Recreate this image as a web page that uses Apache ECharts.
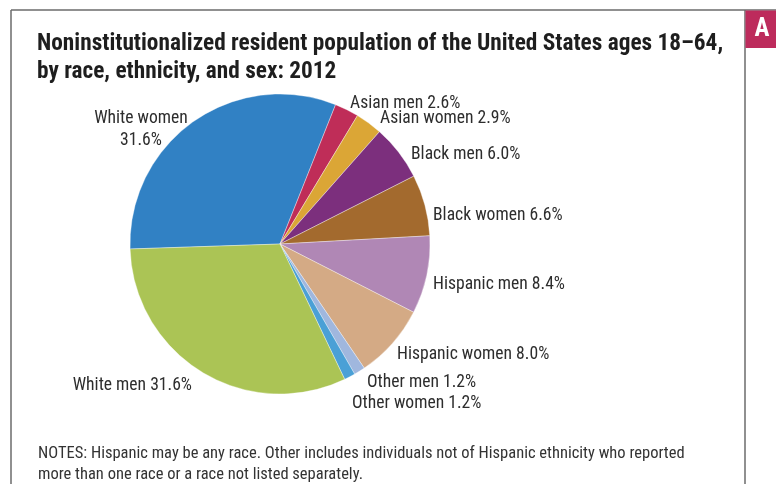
<!DOCTYPE html>
<html>
<head>
<meta charset="utf-8">
<script src="https://cdn.jsdelivr.net/npm/echarts@6/dist/echarts.min.js"></script>
<style>
html,body{margin:0;padding:0;background:#fff;}
#chart{width:776px;height:484px;}
</style>
</head>
<body>
<div id="chart"></div>
<script>
const categories = ["White women","Asian men","Asian women","Black men","Black women","Hispanic men","Hispanic women","Other men","Other women","White men"];
const shares = [31.6, 2.6, 2.9, 6.0, 6.6, 8.4, 8.0, 1.2, 1.2, 31.6];
const sliceColors = ["#3181c4","#bf2d58","#dba636","#7c2f7d","#a36a2e","#b087b5","#d4aa85","#a0b7de","#4aa0d6","#abc455"];
const titleText = "Noninstitutionalized resident population of the United States ages 18\u201364,\nby race, ethnicity, and sex: 2012";
const notesText = "NOTES: Hispanic may be any race. Other includes individuals not of Hispanic ethnicity who reported\nmore than one race or a race not listed separately.";

const FONT = "'Roboto Condensed','Roboto',sans-serif";
// label anchor placements (layout only)
const labelAnchors = [
  {x:141, y:130, align:'center'},
  {x:350, y:104, align:'left'},
  {x:380, y:119, align:'left'},
  {x:411, y:155, align:'left'},
  {x:433, y:216, align:'left'},
  {x:433, y:285, align:'left'},
  {x:397, y:355, align:'left'},
  {x:367, y:383, align:'left'},
  {x:352, y:404, align:'left'},
  {x:192, y:386, align:'right'}
];

const chart = echarts.init(document.getElementById('chart'), null, {renderer:'canvas'});
chart.setOption({
  animation:false,
  backgroundColor:'#ffffff',
  title:{
    text:titleText,
    left:37, top:30,
    padding:0,
    textStyle:{fontFamily:FONT, fontWeight:'bold', fontSize:23.3, lineHeight:28, color:'#1e1e1e'}
  },
  graphic:[
    {type:'line', shape:{x1:11,y1:10,x2:776,y2:10}, style:{stroke:'#6b6b6b', lineWidth:1.5}},
    {type:'line', shape:{x1:11,y1:10,x2:11,y2:484}, style:{stroke:'#6b6b6b', lineWidth:1.5}},
    {type:'line', shape:{x1:745,y1:10,x2:745,y2:484}, style:{stroke:'#6b6b6b', lineWidth:1.5}},
    {type:'rect', shape:{x:745.5,y:10.5,width:31,height:37.5}, style:{fill:'#bd2b5c'}},
    {type:'text', x:762, y:30, style:{text:'A', fill:'#ffffff', font:"bold 25px "+FONT, align:'center', verticalAlign:'middle'}},
    {type:'text', x:38, y:444, style:{text:notesText, fill:'#333333', font:"16.5px "+FONT, lineHeight:20.5, verticalAlign:'top'}}
  ],
  series:[{
    type:'pie',
    center:[280,244],
    radius:[0,150],
    startAngle:181.9,
    clockwise:true,
    avoidLabelOverlap:false,
    itemStyle:{borderColor:'rgba(255,255,255,0.6)', borderWidth:0.6},
    label:{
      show:true,
      position:'outside',
      fontFamily:FONT,
      fontSize:17.6,
      lineHeight:22,
      color:'#2d2d2d',
      formatter:function(p){
        const v = p.value.toFixed(1)+'%';
        return p.dataIndex===0 ? p.name+'\n'+v : p.name+' '+v;
      }
    },
    labelLine:{show:false},
    labelLayout:function(params){
      const a = labelAnchors[params.dataIndex];
      return {x:a.x, y:a.y, align:a.align, verticalAlign:'middle', hideOverlap:false};
    },
    emphasis:{disabled:true},
    data:categories.map((c,i)=>({name:c, value:shares[i], itemStyle:{color:sliceColors[i]}}))
  }]
});
</script>
</body>
</html>
